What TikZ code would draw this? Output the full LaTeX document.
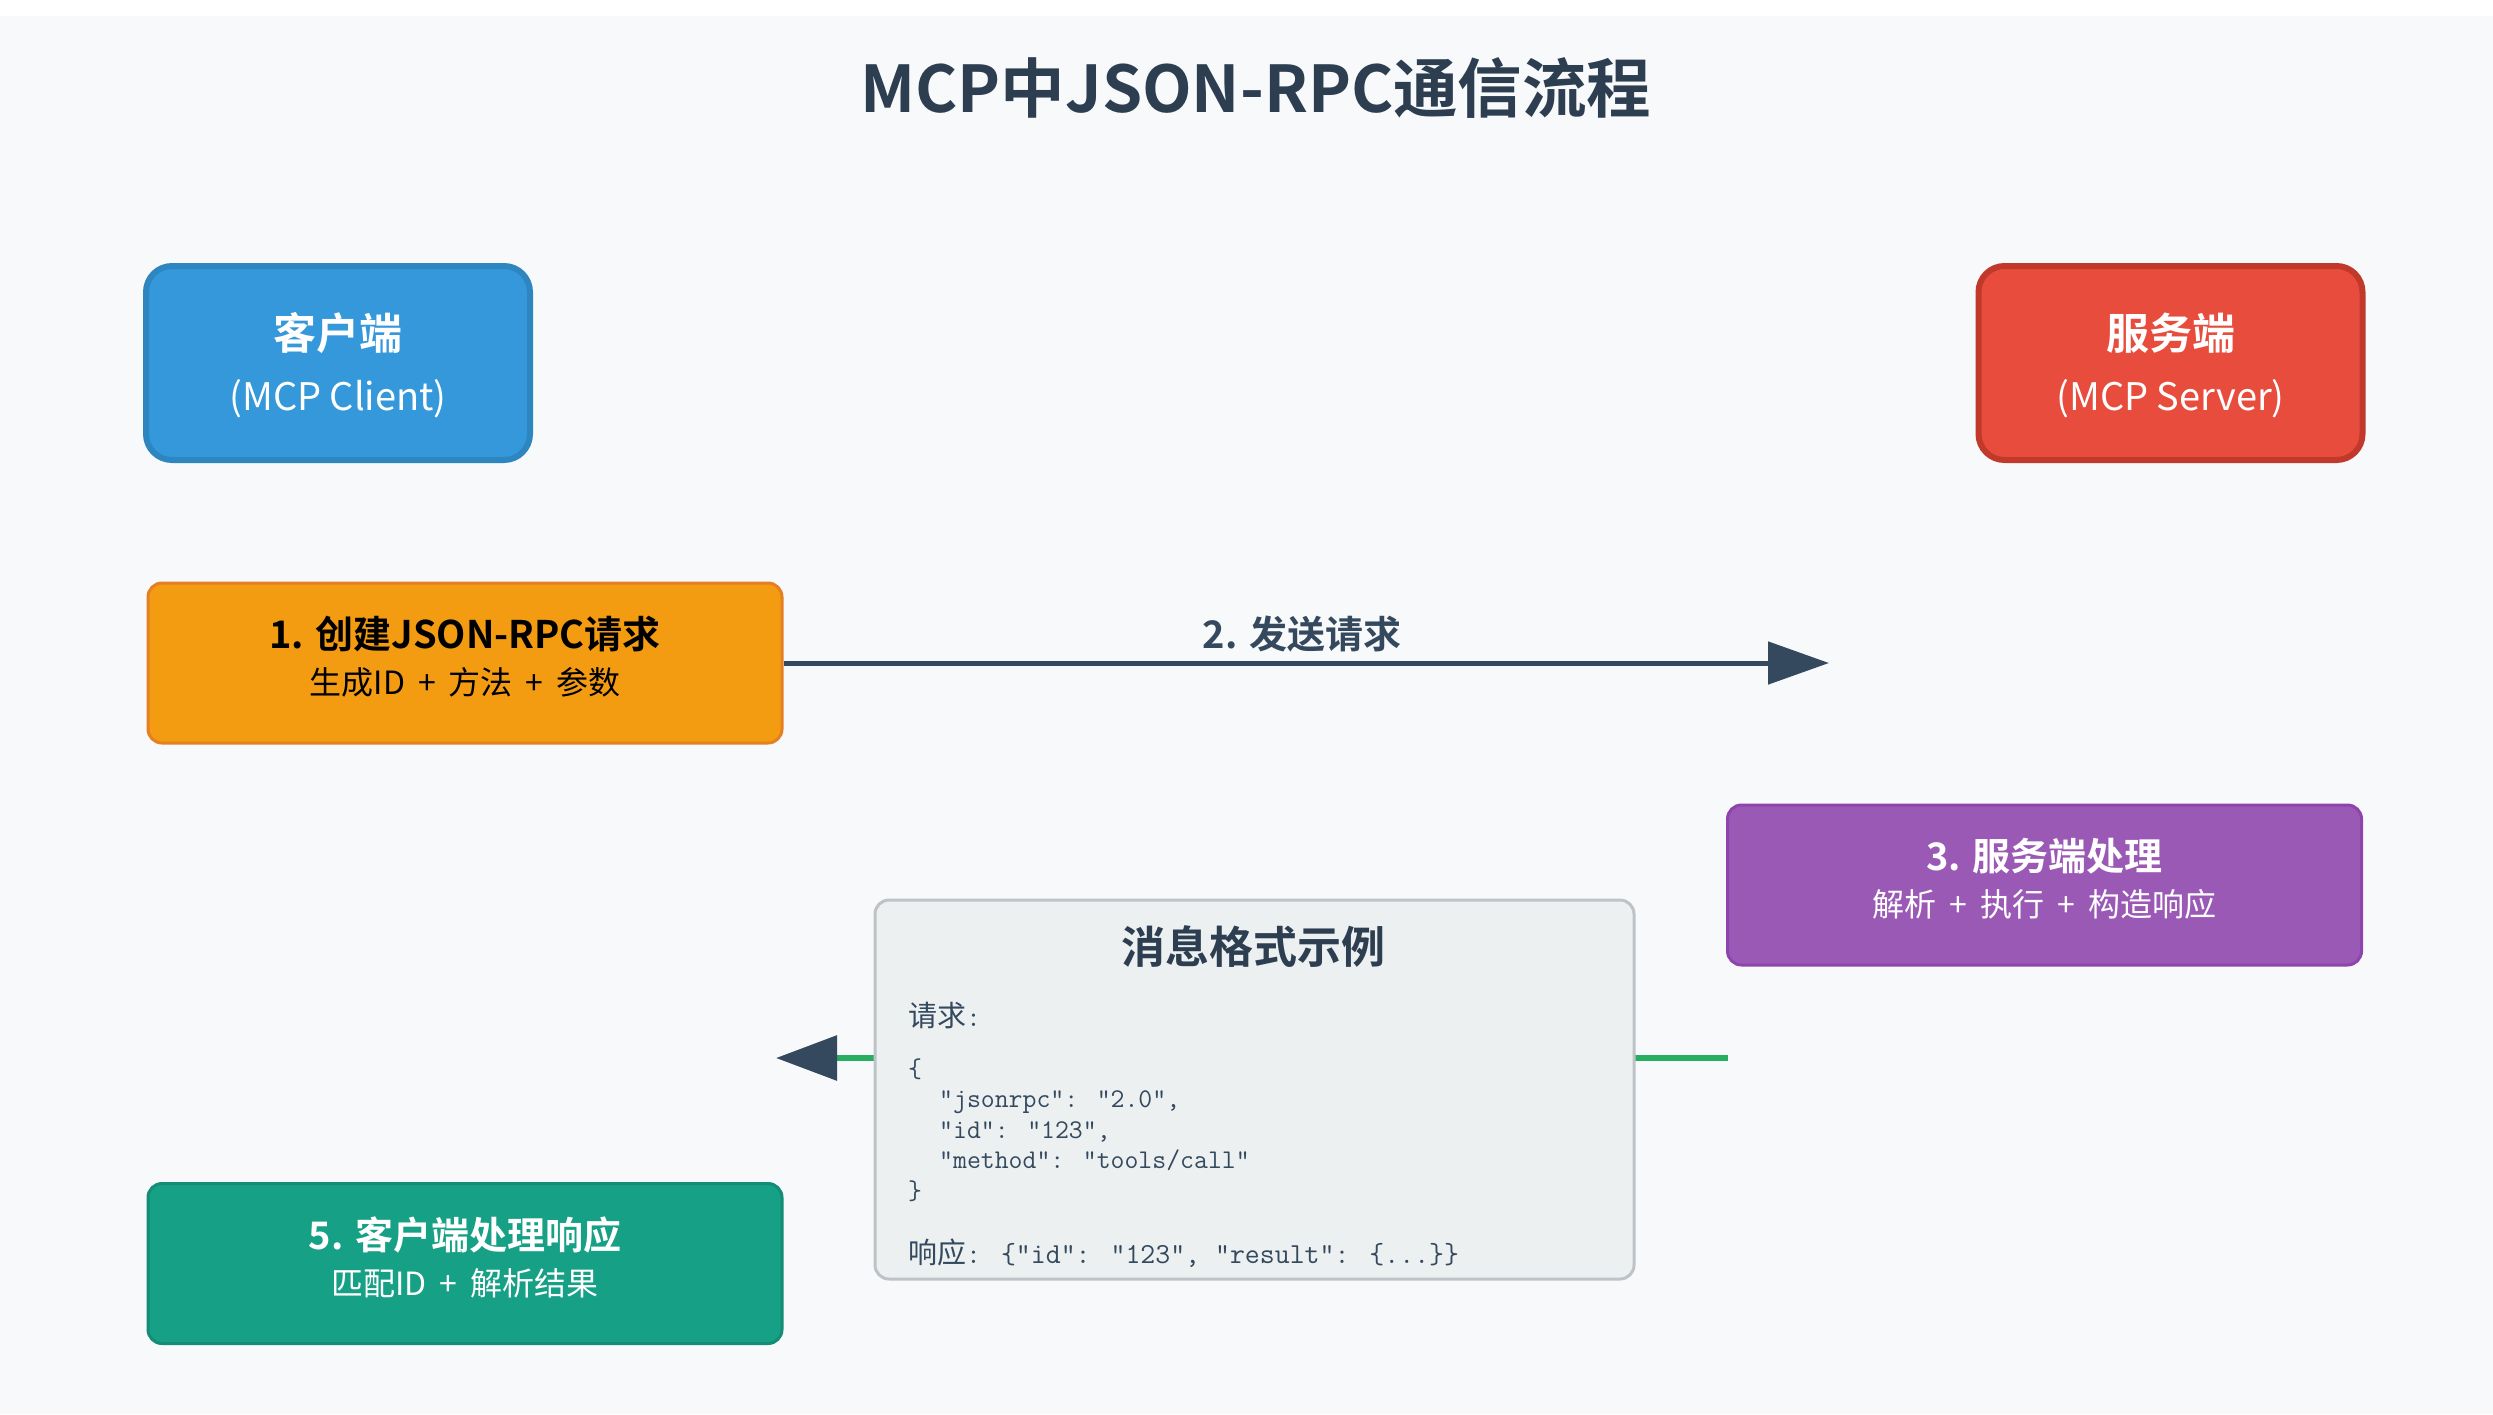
\documentclass[tikz,border=0pt]{standalone}
\usepackage{fontspec}
\setmainfont{Noto Sans CJK SC}[BoldFont={* Bold}]
\newfontfamily\cjk{Noto Sans CJK SC}
\newfontfamily\subfont{Noto Sans CJK SC}[WordSpace=1.8]
\usetikzlibrary{arrows.meta}
\definecolor{bgc}{HTML}{F8F9FA}
\definecolor{titlec}{HTML}{2C3E50}
\definecolor{darkc}{HTML}{34495E}
\definecolor{clientf}{HTML}{3498DB}
\definecolor{clientd}{HTML}{2E86C1}
\definecolor{serverf}{HTML}{E74C3C}
\definecolor{serverd}{HTML}{C0392B}
\definecolor{onef}{HTML}{F39C12}
\definecolor{oned}{HTML}{E67E22}
\definecolor{threef}{HTML}{9B59B6}
\definecolor{threed}{HTML}{8E44AD}
\definecolor{fivef}{HTML}{16A085}
\definecolor{fived}{HTML}{138D75}
\definecolor{msgf}{HTML}{ECF0F1}
\definecolor{msgd}{HTML}{BDC3C7}
\definecolor{greenc}{HTML}{27AE60}
\definecolor{codec}{HTML}{34495E}
\tikzset{
  x=1pt, y=-1pt,
  rolebox/.style={rectangle, rounded corners=26pt, line width=6pt, inner sep=0pt, minimum width=384pt, minimum height=194pt},
  stepbox/.style={rectangle, rounded corners=14pt, line width=3pt, inner sep=0pt, minimum width=634pt, minimum height=160pt},
  txt/.style={inner sep=0pt, anchor=base},
  codetxt/.style={inner sep=0pt, anchor=base west, text=codec},
  roletitle/.style={txt, text=white, font=\bfseries\fontsize{43pt}{50pt}\selectfont},
  rolesub/.style={txt, text=white, font=\fontsize{38pt}{44pt}\selectfont},
  steptitle/.style={txt, font=\bfseries\fontsize{38pt}{44pt}\selectfont},
  stepsub/.style={txt, font=\subfont\fontsize{32pt}{38pt}\selectfont},
  codeline/.style={codetxt, font=\ttfamily\fontsize{27pt}{32pt}\selectfont},
}
\begin{document}
\begin{tikzpicture}
\useasboundingbox (0,0) rectangle (2493,1414);
\fill[white] (0,0) rectangle (2493,1414);
\fill[bgc] (0,16) rectangle (2493,1414);

% title
\node[txt, text=titlec, font=\bfseries\fontsize{64.5pt}{72pt}\selectfont] (title) at (1256,112) {MCP中JSON-RPC通信流程};

% client / server
\node[rolebox, fill=clientf, draw=clientd] (client) at (338,363) {};
\node[roletitle] (clientt) at (338,349) {客户端};
\node[rolesub] (clients) at (338,410) {(MCP Client)};
\node[rolebox, fill=serverf, draw=serverd] (server) at (2170.5,363) {};
\node[roletitle] (servert) at (2170.5,349) {服务端};
\node[rolesub] (servers) at (2170.5,410) {(MCP Server)};

% step 1
\node[stepbox, fill=onef, draw=oned] (step1) at (465,663) {};
\node[steptitle, text=black] (step1t) at (465,648) {1. 创建JSON-RPC请求};
\node[stepsub, text=black] (step1s) at (465,694) {生成ID + 方法 + 参数};

% step 2 arrow
\coordinate (reqend) at (1829,663);
\draw[line width=5pt, darkc, -{Triangle[length=61pt,width=42pt]}] (step1.east) -- (reqend);
\node[txt, text=darkc, font=\bfseries\fontsize{38pt}{44pt}\selectfont] (step2) at (1302,648) {2. 发送请求};

% step 3
\node[stepbox, fill=threef, draw=threed] (step3) at (2044.5,885) {};
\node[steptitle, text=white] (step3t) at (2044.5,870) {3. 服务端处理};
\node[stepsub, text=white] (step3s) at (2044.5,916) {解析 + 执行 + 构造响应};

% step 4 arrow (response)
\coordinate (respstart) at (1728,1058);
\coordinate (respend) at (776,1058);
\draw[line width=6pt, greenc, -{Triangle[length=61pt,width=44pt,color=darkc]}] (respstart) -- (respend);

% message box
\node[rectangle, rounded corners=14pt, line width=3pt, fill=msgf, draw=msgd, inner sep=0pt, minimum width=759pt, minimum height=379pt] (msg) at (1254.5,1089.5) {};
\node[txt, text=titlec, font=\bfseries\fontsize{44pt}{50pt}\selectfont] (msgt) at (1253,963) {消息格式示例};
\node[codetxt, font=\fontsize{29pt}{34pt}\selectfont] (reqlbl) at (908,1026) {\cjk 请求\ttfamily:};
\node[codeline] (c1) at (908,1077) {\{};
\node[codeline] (c2) at (939,1107) {"jsonrpc": "2.0",};
\node[codeline] (c3) at (939,1138) {"id": "123",};
\node[codeline] (c4) at (939,1168) {"method": "tools/call"};
\node[codeline] (c5) at (908,1199) {\}};
\node[codetxt, font=\fontsize{29pt}{34pt}\selectfont] (resp) at (908,1263) {\cjk 响应\ttfamily: \{"id": "123", "result": \{...\}\}};

% step 5
\node[stepbox, fill=fivef, draw=fived] (step5) at (465,1263.5) {};
\node[steptitle, text=white] (step5t) at (465,1249) {5. 客户端处理响应};
\node[stepsub, text=white] (step5s) at (465,1295) {匹配ID + 解析结果};
\end{tikzpicture}
\end{document}
